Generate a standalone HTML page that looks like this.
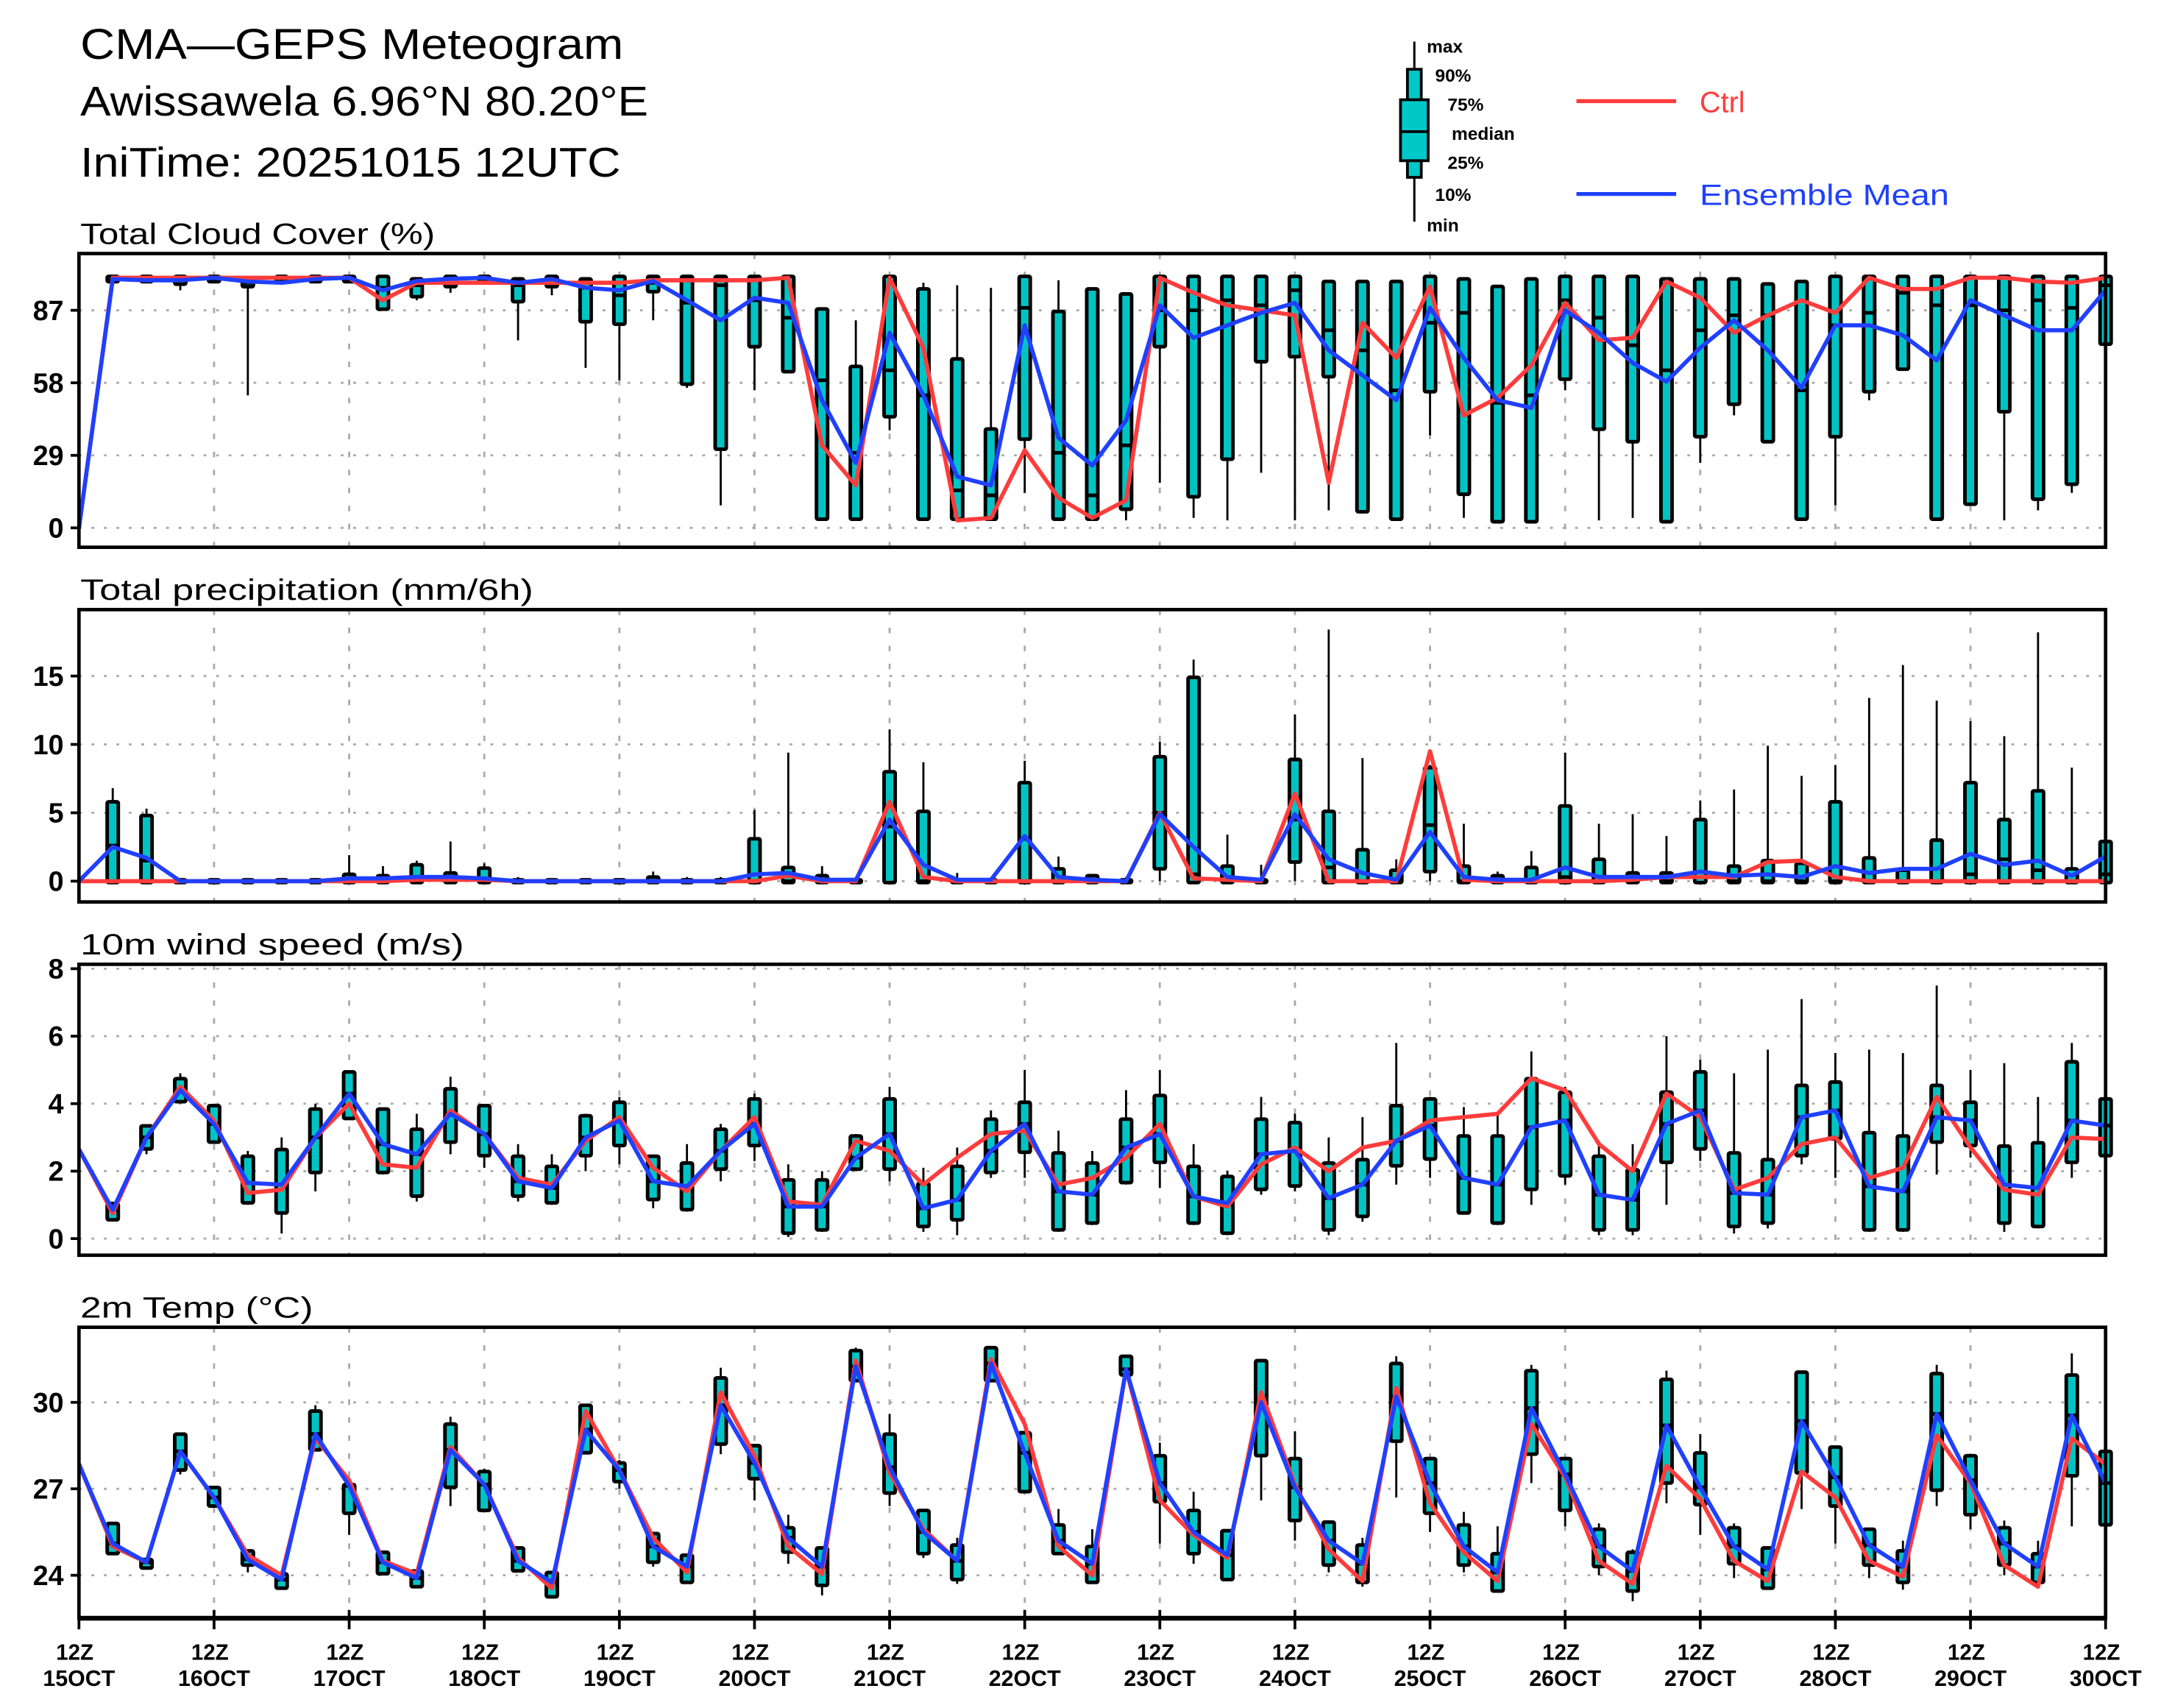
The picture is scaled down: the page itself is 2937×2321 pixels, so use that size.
<!DOCTYPE html>
<html><head><meta charset="utf-8"><title>CMA-GEPS Meteogram</title>
<style>html,body{margin:0;padding:0;background:#fff}svg{display:block}text{font-family:"Liberation Sans",sans-serif}</style>
</head><body>
<svg id="chart" xmlns="http://www.w3.org/2000/svg" width="2937" height="2321" viewBox="0 0 1560 1232.8" preserveAspectRatio="none">
<rect x="0" y="0" width="1560" height="1232.8" fill="#fff"/>
<g>
<text x="58" y="42.5" font-size="31" textLength="392" lengthAdjust="spacingAndGlyphs">CMA—GEPS Meteogram</text>
<text x="58" y="83.5" font-size="30" textLength="410" lengthAdjust="spacingAndGlyphs">Awissawela 6.96°N 80.20°E</text>
<text x="58" y="127.5" font-size="30" textLength="390" lengthAdjust="spacingAndGlyphs">IniTime: 20251015 12UTC</text>
</g>
<g>
<line x1="1021" y1="30" x2="1021" y2="160" stroke="#000" stroke-width="1.6"/>
<rect x="1016" y="50" width="10" height="78" fill="#00c8c8" stroke="#000" stroke-width="2"/>
<rect x="1011" y="72" width="20" height="44" fill="#00c8c8" stroke="#000" stroke-width="2"/>
<line x1="1011" y1="95" x2="1031" y2="95" stroke="#000" stroke-width="2"/>
<g font-size="13" font-weight="bold">
<text x="1030" y="38">max</text>
<text x="1036" y="59">90%</text>
<text x="1045" y="80">75%</text>
<text x="1048" y="101">median</text>
<text x="1045" y="122">25%</text>
<text x="1036" y="145">10%</text>
<text x="1030" y="167">min</text>
</g>
<line x1="1138" y1="73" x2="1210" y2="73" stroke="#ff3c3c" stroke-width="2.8"/>
<text x="1227" y="81" font-size="21" fill="#ff3c3c">Ctrl</text>
<line x1="1138" y1="140" x2="1210" y2="140" stroke="#2040ff" stroke-width="2.8"/>
<text x="1227" y="148" font-size="21" fill="#2040ff" textLength="180" lengthAdjust="spacingAndGlyphs">Ensemble Mean</text>
</g>
</svg>
<script>
// ---- shared time axis ----
const xTickDays = ["15OCT","16OCT","17OCT","18OCT","19OCT","20OCT","21OCT","22OCT","23OCT","24OCT","25OCT","26OCT","27OCT","28OCT","29OCT","30OCT"];
// ---- cloud cover (%) ----
const cloudMin = [99,98,95,99,53,98,99,99,87,91,94,99,75,93,64,59,83,56,9,55,63,4,4,39,4,3,3,14,4,4,3,18,4,3,22,3,7,7,4,37,4,3,3,55,3,4,3,26,45,35,4,9,51,64,4,10,3,7,14,74];
const cloudP10 = [99,99,98,99,97,99,99,99,88,93,97,99,91,97,83,82,95,58,32,73,63,4,4,45,4,4,4,36,4,4,8,73,13,28,67,69,61,7,4,55,14,3,3,60,40,35,3,37,50,35,4,37,55,64,4,10,47,12,18,74];
const cloudMed = [99,99,99,100,98,99,100,100,96,97,99,100,97,99,96,93,98,90,97,91,84,59,30,63,53,15,13,88,30,13,33,87,87,91,89,95,79,71,55,82,86,50,53,91,84,73,63,79,85,85,55,81,86,94,89,89,87,91,88,97];
const cloudP90 = [100,100,100,100,99,100,100,100,100,99,100,100,99,100,99,100,100,100,100,100,100,87,64,100,95,67,39,100,86,95,93,100,100,100,100,100,98,98,98,100,99,96,99,100,100,100,99,99,99,97,98,100,100,100,100,100,100,100,100,100];
const cloudMax = [100,100,100,100,100,100,100,100,100,100,100,100,100,100,100,100,100,100,100,100,100,87,83,100,98,97,96,100,99,95,93,100,100,100,100,100,98,98,98,100,99,96,99,100,100,100,99,100,99,97,98,100,100,100,100,100,100,100,100,100];
const cloudCtrl = [0,100,100,100,100,100,100,100,100,91,98,98,98,98,98,98,98,99,99,99,99,100,33,17,100,72,3,4,31,12,4,11,100,94,89,87,85,18,82,68,96.5,45,52,65,90,75,76,98.5,92,78,85,91,86,100,95.5,95.5,100,100,98.5,98,100];
const cloudMean = [0,99.5,99,99,100,98.5,98,99.5,100,95,98.7,99.6,100,98,99.5,96,95,98.7,91,83,92,90,51,26,78,53,20.5,17,81,36,25,43,89,76,81,86,90,71,61,51,88,68,51,48,87,78,66,58.5,72,83,71,56,81,81,77,67,91,85,79,79,95];
const cloudTicks = [0,29,58,87];
// ---- precipitation (mm/6h) ----
const precMin = [0,0,0,0,0,0,0,0,0,0,0,0,0,0,0,0,0,0,0,0,0,0,0,0,0,0,0,0,0,0,0,0,0,0,0,0,0,0,0,0,0,0,0,0,0,0,0,0,0,0,0,0,0,0,0,0,0,0,0,0];
const precP10 = [0,0,0,0,0,0,0,0,0,0,0,0,0,0,0,0,0,0,0,0,0,0,0,0,0,0,0,0,0,0,0,1,0,0,0,1.5,0,0,0,0.8,0,0,0,0,0,0,0,0,0,0,0,0,0,0,0,0,0,0,0,0];
const precMed = [2.6,1.5,0,0,0,0,0,0,0,0,0,0,0,0,0,0,0,0,0,0,0,0,0,4,0,0,0,3.1,0,0,0,5,0.5,0,0,4.5,1,0,0,4.1,0,0,0,0.3,0,0,0,0.3,0,0,0,0,0,0,0,0.5,1.6,0.8,0,0.5];
const precP90 = [5.7,4.7,0,0,0,0,0,0.4,0.3,1.1,0.5,0.85,0,0,0,0,0.2,0,0,3,0.9,0.3,0,7.9,5,0,0,7.1,0.8,0.3,0,9,14.8,1,0,8.8,5,2.2,0.7,8.2,1,0.3,0.9,5.4,1.5,0.5,0.5,4.4,1,1.4,1.2,5.7,1.6,0.7,2.9,7.1,4.4,6.5,0.8,2.8];
const precMax = [6.8,5.3,0,0,0,0,0,1.9,1.1,1.5,2.9,1.3,0.3,0.2,0,0,0.7,0.3,0.3,5.2,9.4,1.1,0,11.1,8.7,0.6,0,8.8,1.8,0.3,0.3,10.2,16.2,3.4,1.2,12.2,18.4,9,1.6,8.5,4.2,0.7,2.2,9.4,4.2,4.9,3.3,5.9,6.7,9.9,7.7,8.5,13.4,15.8,13.2,11.7,10.6,18.2,8.3,8.2];
const precCtrl = [0,0,0,0,0,0,0,0,0,0,0.1,0.1,0.1,0,0,0,0,0,0,0,0,0.4,0,0,5.8,0.3,0,0,0,0,0,0,5,0.2,0.1,0,6.4,0,0,0,9.5,0.1,0,0,0,0,0.1,0.3,0.3,0.3,1.4,1.5,0.3,0,0,0,0,0,0,0,0];
const precMean = [0,2.5,1.7,0,0,0,0,0,0.2,0.2,0.3,0.3,0.2,0,0,0,0,0,0,0,0.5,0.6,0.1,0.1,4.5,1.2,0.1,0.1,3.3,0.3,0.1,0,4.9,2.5,0.3,0.1,4.9,1.6,0.6,0.1,3.6,0.3,0.1,0.1,1,0.3,0.3,0.3,0.7,0.4,0.5,0.3,1.1,0.6,0.9,0.9,2,1.2,1.5,0.4,1.8];
const precTicks = [0,5,10,15];
// ---- 10m wind speed (m/s) ----
const windMin = [0.6,2.5,4,2.9,1,0.15,1.4,3.6,1.9,1.1,2.5,2.1,1.1,1,2,2.2,0.9,0.8,1.7,2.3,0.05,0.2,2,1.7,0.2,0.1,1.8,1.8,0.2,0.4,1.6,1.5,0.4,0.1,1.3,1.4,0.1,0.5,1.6,1.8,0.8,0.4,1,1.6,0.1,0.1,1,2.3,0.15,0.3,2.2,1.8,0.2,0.2,1.9,2.4,0.2,0.3,1.8,2.5];
const windP10 = [0.6,2.7,4.1,2.9,1.1,0.8,2,3.6,2,1.3,2.9,2.5,1.3,1.1,2.5,2.8,1.2,0.9,2.1,2.8,0.2,0.3,2.1,2.1,0.4,0.6,2,2.6,0.3,0.5,1.7,2.3,0.5,0.2,1.5,1.6,0.3,0.7,2.2,2.4,0.8,0.5,1.5,1.9,0.3,0.3,2.3,2.7,0.4,0.5,2.5,3,0.3,0.3,2.9,2.8,0.5,0.4,2.3,2.5];
const windMed = [0.85,3,4.4,3.4,1.65,1.6,3,4.3,2.8,2.5,3.7,3.1,1.7,1.5,3,3.5,1.7,1.55,2.6,3.4,0.95,0.95,2.4,3.1,0.9,1.15,2.6,3.4,1.4,1.3,2.7,3.1,1.25,1.05,2.5,2.6,1.2,1.6,2.9,3.35,1.8,1.6,3.3,3.5,1.3,1.15,3.4,3.8,1.35,1.3,3.6,3.8,1.55,1.4,3.6,3.5,1.6,1.5,3.5,3.35];
const windP90 = [1,3.3,4.7,3.9,2.4,2.6,3.8,4.9,3.8,3.2,4.4,3.9,2.4,2.1,3.6,4,2.4,2.2,3.2,4.1,1.7,1.7,3,4.1,1.6,2.1,3.5,4,2.5,2.2,3.5,4.2,2.1,1.8,3.5,3.4,2.2,2.3,3.9,4.1,3,3,4.7,4.3,2.4,2,4.3,4.9,2.5,2.3,4.5,4.6,3.1,3,4.5,4,2.7,2.8,5.2,4.1];
const windMax = [1.05,3.3,4.9,4,2.6,3,4,4.9,3.8,3.7,4.8,3.9,2.8,2.5,3.7,4.2,2.4,2.8,3.4,4.3,2.2,2,3.1,4.5,2.1,2.7,3.8,5,3.2,2.6,4.4,5,2.8,2,4.2,3.7,3,3.6,5.8,4.2,3.9,3.7,5.55,4.5,2.9,2.8,6,5.3,4.9,5.6,7.1,5.5,5.6,5.5,7.5,5,5.2,4.2,5.8,4.2];
const windCtrl = [2.65,0.75,3,4.5,3.5,1.35,1.45,3,4,2.2,2.1,3.8,3.1,1.8,1.6,2.9,3.6,2.1,1.4,2.6,3.6,1.1,1,2.9,2.6,1.6,2.4,3.1,3.2,1.6,1.8,2.4,3.4,1.25,0.95,2.2,2.7,2,2.7,2.9,3.5,3.6,3.7,4.75,4.4,2.8,2,4.3,3.6,1.45,1.8,2.8,3,1.8,2.1,4.2,2.7,1.45,1.3,3,2.95];
const windMean = [2.65,0.85,3,4.4,3.4,1.65,1.6,3,4.3,2.8,2.5,3.7,3.1,1.7,1.5,3,3.5,1.7,1.55,2.6,3.4,0.95,0.95,2.4,3.1,0.9,1.15,2.6,3.4,1.4,1.3,2.7,3.1,1.25,1.05,2.5,2.6,1.2,1.6,2.9,3.35,1.8,1.6,3.3,3.5,1.3,1.15,3.4,3.8,1.35,1.3,3.6,3.8,1.55,1.4,3.6,3.5,1.6,1.5,3.5,3.35];
const windTicks = [0,2,4,6,8];
// ---- 2m temperature (C) ----
const tempMin = [24.8,24.3,27.5,26.45,24.1,23.5,28.4,25.4,24.1,23.6,26.4,26.3,24.2,23.3,28.3,27,24.3,23.8,28.2,26.6,24.4,23.3,30.8,26.4,24.6,23.7,30.8,26.9,24.7,23.8,30.8,25.1,24.4,23.8,26.6,25.2,24.1,23.6,26.7,25.5,24.1,23.5,27.2,25.7,24,23.1,26.5,25.4,23.9,23.5,26.3,25.1,23.9,23.5,26.4,25.6,24,23.6,25.7,25.8];
const tempP10 = [24.8,24.3,27.7,26.45,24.4,23.6,28.4,26.2,24.1,23.65,27.1,26.3,24.2,23.3,28.3,27.3,24.5,23.8,28.6,27.4,24.85,23.7,30.8,26.9,24.8,23.9,30.8,26.95,24.8,23.8,31,26.6,24.8,23.9,28.2,25.95,24.4,23.8,28.7,26.2,24.4,23.5,28.25,26.3,24.35,23.5,27.25,26.5,24.45,23.6,27.6,26.45,24.4,23.8,27,26.15,24.4,23.8,27.5,25.8];
const tempMed = [25.1,24.45,28.3,26.7,24.55,23.85,28.9,27.1,24.45,23.9,28.35,27.15,24.5,23.75,29.05,27.65,25,24.3,29.9,27.9,25.3,24.3,31.25,27.75,25.5,24.5,31.35,28.25,25.2,24.4,31.15,27.2,25.5,24.7,30,27.05,25.2,24.4,30.2,27.2,25,24.1,29.8,27.5,25,24.15,29.2,27.05,25,24.2,29.35,27.4,25.05,24.3,29.6,27.3,25.1,24.3,29.55,27.2];
const tempP90 = [25.75,24.5,28.85,27,24.8,24,29.65,27.1,24.75,24.1,29.2,27.55,24.9,24.05,29.85,27.85,25.4,24.65,30.8,28.45,25.6,24.9,31.75,28.85,26.2,25,31.85,28.9,25.7,24.95,31.55,28.1,26.2,25.5,31.4,28,25.8,25,31.3,28,25.7,24.7,31.05,28,25.55,24.75,30.75,28.2,25.6,24.9,31,28.4,25.55,24.8,30.95,28.1,25.6,24.7,30.9,28.25];
const tempMax = [25.8,24.55,28.9,27,24.8,24,29.9,27.1,24.75,24.1,29.5,27.7,24.9,24.1,29.95,28,25.4,24.65,31.2,28.45,26.1,25,31.9,29.6,26.3,25.3,31.9,28.9,26.3,25.6,31.6,28.6,26.9,25.5,31.5,29,25.8,25.3,31.6,28.1,26.2,25.7,31.3,28,25.8,24.9,31.1,28.9,25.8,25,31.05,28.5,25.6,25.2,31.3,28.2,25.9,25.2,31.7,28.3];
const tempCtrl = [27.86,25,24.45,28.3,26.7,24.7,24,28.75,27.3,24.5,24.05,28.45,27.15,24.6,23.55,29.7,27.65,25.3,24.1,30.35,28.15,25,24.05,31.45,27.55,25.6,24.5,31.5,29.25,25,24,31.15,26.6,25.4,24.6,30.35,27.15,24.9,23.8,30.5,26.5,24.8,23.8,29.25,27.4,24.5,23.7,27.8,26.65,24.5,23.8,27.6,26.7,24.5,23.95,28.85,27.2,24.35,23.6,28.75,27.85];
const tempMean = [27.86,25.1,24.45,28.3,26.7,24.55,23.85,28.9,27.1,24.45,23.9,28.35,27.15,24.5,23.75,29.05,27.65,25,24.3,29.9,27.9,25.3,24.3,31.25,27.75,25.5,24.5,31.35,28.25,25.2,24.4,31.15,27.2,25.5,24.7,30,27.05,25.2,24.4,30.2,27.2,25,24.1,29.8,27.5,25,24.15,29.2,27.05,25,24.2,29.35,27.4,25.05,24.3,29.6,27.3,25.1,24.3,29.55,27.2];
const tempTicks = [24,27,30];

const NS = "http://www.w3.org/2000/svg";
const svg = document.getElementById("chart");
const X0 = 57, X1 = 1520, NSTEP = 60;
function xAt(i){ return X0 + (X1 - X0) * i / NSTEP; }
function mk(tag, attrs, parent){ const e = document.createElementNS(NS, tag); for (const k in attrs) e.setAttribute(k, attrs[k]); (parent||svg).appendChild(e); return e; }

function panel(cfg){
  const g = mk("g", {});
  
  
  const yAt = v => cfg.y0 - (v - cfg.v0) * cfg.k;
  const t = mk("text", {x:58, y:cfg.top - 7, "font-size":21, textLength:cfg.tl, lengthAdjust:"spacingAndGlyphs"}, g);
  t.textContent = cfg.title;
  
  
  for (let d = 1; d < 15; d++){
    const x = xAt(d*4);
    const l = mk("line", {x1:x, x2:x, y1:cfg.top, y2:cfg.bot, stroke:"#aaa", "stroke-width":1.5, "stroke-dasharray":"4 9"}, g);
    
    
  }
  cfg.ticks.forEach(v => {
    const y = yAt(v);
    const l = mk("line", {x1:X0, x2:X1, y1:y, y2:y, stroke:"#aaa", "stroke-width":1.5, "stroke-dasharray":"2 7"}, g);
    
    
    const tk = mk("line", {x1:X0-6, x2:X0, y1:y, y2:y, stroke:"#000", "stroke-width":2}, g);
    
    
    const lb = mk("text", {x:46, y:y+7, "font-size":20, "font-weight":"bold", "text-anchor":"end"}, g);
    lb.textContent = String(v);
    
    
  });
  for (let j = 0; j < cfg.mn.length; j++){
    const i = j + 1, x = xAt(i);
    const bg = mk("g", {}, g);
    
    
    const yMax = yAt(cfg.mx[j]), yMin = yAt(cfg.mn[j]);
    mk("line", {x1:x, x2:x, y1:yMax, y2:yMin, stroke:"#000", "stroke-width":1.5}, bg);
    const yTop = yAt(cfg.p90[j]), yBot = yAt(cfg.p10[j]);
    mk("rect", {x:x-4, y:yTop-1, width:8, height:Math.max(yBot - yTop, 0) + 2, fill:"#00c4c4", stroke:"#000", "stroke-width":2.6, rx:1}, bg);
    const ym = yAt(cfg.med[j]);
    mk("line", {x1:x-5, x2:x+5, y1:ym, y2:ym, stroke:"#000", "stroke-width":2.6}, bg);
  }
  const pts = arr => arr.map((v,i) => xAt(i).toFixed(1) + "," + yAt(v).toFixed(1)).join(" ");
  const rl = mk("polyline", {points:pts(cfg.ctrl), fill:"none", stroke:"#ff3c3c", "stroke-width":3, "stroke-linejoin":"round"}, g);
  
  
  const bl = mk("polyline", {points:pts(cfg.mean), fill:"none", stroke:"#2040ff", "stroke-width":3, "stroke-linejoin":"round"}, g);
  
  
  const fr = mk("rect", {x:X0, y:cfg.top, width:X1-X0, height:cfg.bot-cfg.top, fill:"none", stroke:"#000", "stroke-width":2.5}, g);
  
  
}

panel({name:"cloud-cover", title:"Total Cloud Cover (%)", tl:256, top:183, bot:395, y0:381, v0:0, k:1.805, ticks:cloudTicks,
  mn:cloudMin, p10:cloudP10, med:cloudMed, p90:cloudP90, mx:cloudMax, ctrl:cloudCtrl, mean:cloudMean});
panel({name:"precipitation", title:"Total precipitation (mm/6h)", tl:327, top:440, bot:651, y0:636, v0:0, k:9.87, ticks:precTicks,
  mn:precMin, p10:precP10, med:precMed, p90:precP90, mx:precMax, ctrl:precCtrl, mean:precMean});
panel({name:"wind-speed", title:"10m wind speed (m/s)", tl:277, top:696, bot:906, y0:894, v0:0, k:24.35, ticks:windTicks,
  mn:windMin, p10:windP10, med:windMed, p90:windP90, mx:windMax, ctrl:windCtrl, mean:windMean});
panel({name:"temperature", title:"2m Temp (°C)", tl:168, top:958, bot:1168, y0:1137, v0:24, k:20.8, ticks:tempTicks,
  mn:tempMin, p10:tempP10, med:tempMed, p90:tempP90, mx:tempMax, ctrl:tempCtrl, mean:tempMean});

const ax = mk("g", {});


mk("line", {x1:X0, x2:X1, y1:1168, y2:1168, stroke:"#000", "stroke-width":3.5}, ax);
xTickDays.forEach((d, k) => {
  const x = xAt(k*4);
  const tk = mk("line", {x1:x, x2:x, y1:1162, y2:1176, stroke:"#000", "stroke-width":2}, ax);
  
  
  const a = mk("text", {x:x-3, y:1198, "font-size":16, "font-weight":"bold", "text-anchor":"middle", textLength:27, lengthAdjust:"spacingAndGlyphs"}, ax);
  a.textContent = "12Z";
  
  
  const b = mk("text", {x:x, y:1217, "font-size":16, "font-weight":"bold", "text-anchor":"middle", textLength:52, lengthAdjust:"spacingAndGlyphs"}, ax);
  b.textContent = d;
  
  
});
</script>
</body></html>
